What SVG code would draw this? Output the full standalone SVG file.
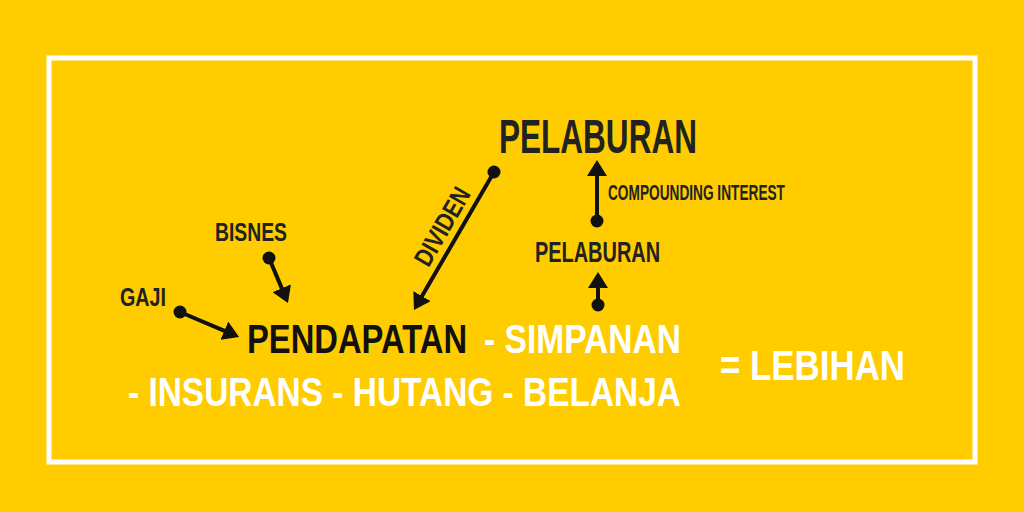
<svg xmlns="http://www.w3.org/2000/svg" width="1024" height="512" viewBox="0 0 1024 512">
<style>
.t{font-family:"Liberation Sans",Arial,sans-serif;font-weight:bold}
.d{fill:#222222}
.w{fill:#ffffff}
.ln{stroke:#111111;stroke-width:4;fill:none}
.dot{fill:#111111}
</style>
<defs>
<marker id="ah" viewBox="0 0 16 20" refX="4" refY="10" markerWidth="16" markerHeight="20" markerUnits="userSpaceOnUse" orient="auto">
<path d="M0,0 L16,10 L0,20 z" fill="#111111"/>
</marker>
</defs>
<rect x="0" y="0" width="1024" height="512" fill="#ffcc00"/>
<rect x="49" y="58" width="926" height="404" fill="none" stroke="#ffffff" stroke-width="5"/>
<g id="connectors">
<line class="ln" x1="180" y1="312" x2="228" y2="332.3" marker-end="url(#ah)"/>
<circle class="dot" cx="180" cy="312" r="6.5"/>
<line class="ln" x1="269" y1="258" x2="283.3" y2="291.9" marker-end="url(#ah)"/>
<circle class="dot" cx="269" cy="258" r="6.5"/>
<line class="ln" x1="494" y1="172" x2="420" y2="299.6" marker-end="url(#ah)"/>
<circle class="dot" cx="494" cy="172" r="6.5"/>
<line class="ln" x1="597" y1="221" x2="597" y2="172" marker-end="url(#ah)"/>
<circle class="dot" cx="597" cy="221" r="6.5"/>
<line class="ln" x1="598" y1="305" x2="598" y2="284" marker-end="url(#ah)"/>
<circle class="dot" cx="598" cy="305" r="6.5"/>
</g>
<g id="pelaburan-top"><text class="t d" font-size="48" transform="translate(499,153) scale(0.657,1)" textLength="301.3" lengthAdjust="spacingAndGlyphs">PELABURAN</text></g>
<g id="compounding"><text class="t d" font-size="22" transform="translate(608,200) scale(0.613,1)" textLength="288.7" lengthAdjust="spacingAndGlyphs">COMPOUNDING INTEREST</text></g>
<g id="pelaburan-mid"><text class="t d" font-size="30" transform="translate(535,262) scale(0.664,1)" textLength="188.3" lengthAdjust="spacingAndGlyphs">PELABURAN</text></g>
<g id="bisnes"><text class="t d" font-size="26" transform="translate(215,241) scale(0.744,1)" textLength="96.8" lengthAdjust="spacingAndGlyphs">BISNES</text></g>
<g id="gaji"><text class="t d" font-size="26" transform="translate(120,306) scale(0.758,1)" textLength="60.7" lengthAdjust="spacingAndGlyphs">GAJI</text></g>
<g id="dividen"><text class="t d" font-size="26" text-anchor="middle" transform="translate(450,231) rotate(-60) scale(0.815,1)" textLength="105.5" lengthAdjust="spacingAndGlyphs">DIVIDEN</text></g>
<g id="pendapatan"><text class="t" fill="#111111" font-size="41" transform="translate(247,353) scale(0.773,1)" textLength="284.7" lengthAdjust="spacingAndGlyphs">PENDAPATAN</text></g>
<g id="simpanan"><text class="t w" font-size="41" transform="translate(484,353) scale(0.809,1)" textLength="243.6" lengthAdjust="spacingAndGlyphs">- SIMPANAN</text></g>
<g id="line2"><text class="t w" font-size="41" transform="translate(128,406) scale(0.812,1)" textLength="681" lengthAdjust="spacingAndGlyphs">- INSURANS - HUTANG - BELANJA</text></g>
<g id="lebihan"><text class="t w" font-size="42" transform="translate(720,380) scale(0.830,1)" textLength="222.9" lengthAdjust="spacingAndGlyphs">= LEBIHAN</text></g>
</svg>
